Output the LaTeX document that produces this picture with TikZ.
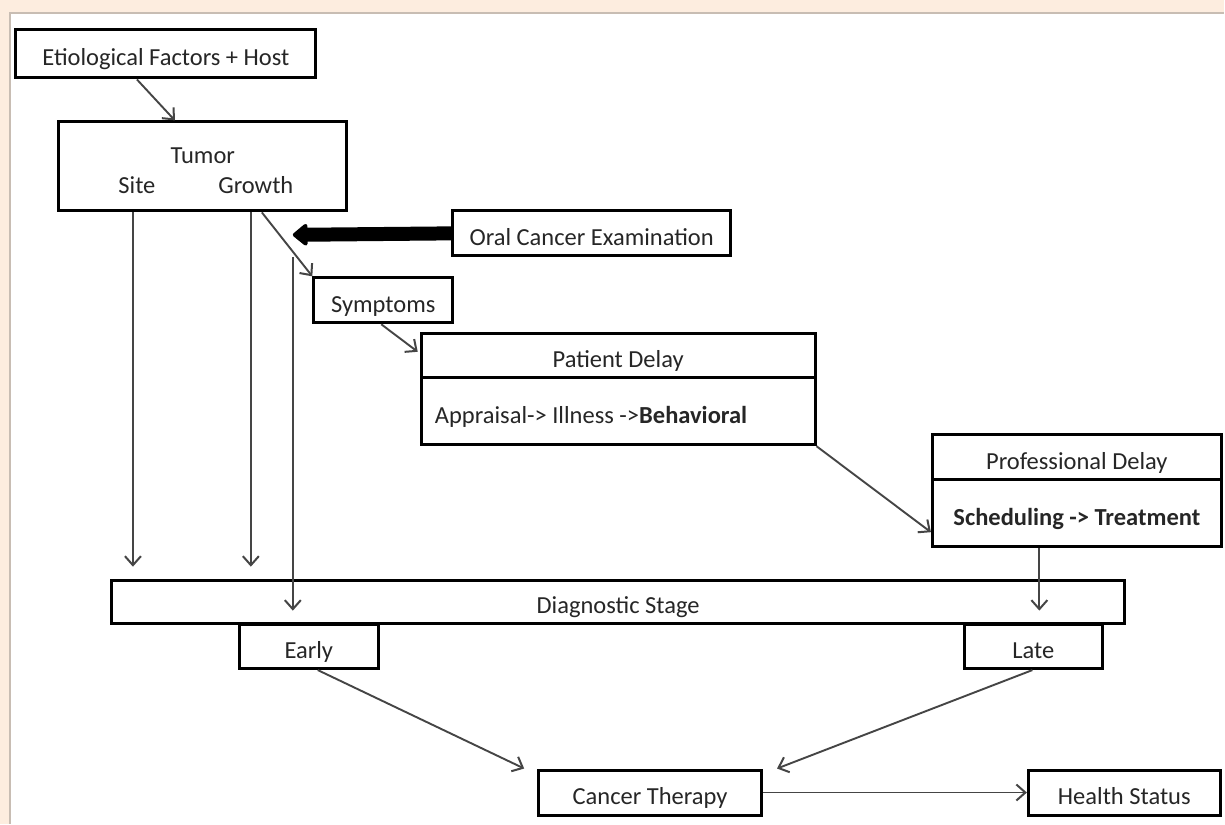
\documentclass[tikz,border=0pt]{standalone}
\usepackage{fontspec}
\setmainfont{Carlito}
\usetikzlibrary{arrows.meta}
\definecolor{peach}{HTML}{FDEDDF}
\definecolor{edgec}{HTML}{C8BDB3}
\definecolor{textc}{HTML}{262626}
\definecolor{linec}{HTML}{454545}
\newcommand{\boxfont}{\fontsize{24.5}{29}\selectfont}
\begin{document}
\begin{tikzpicture}[x=1pt,y=-1pt,
  box/.style={draw=black, line width=3pt, inner sep=0pt, text=textc, font=\boxfont, text height=25pt, text depth=1pt},
  lbl/.style={inner sep=0pt, text=textc, font=\boxfont},
  arr/.style={draw=linec, line width=1.9pt, -{Straight Barb[length=9pt,width=16pt,line width=2pt]}},
  big/.style={draw=black, line width=14pt, -{Triangle[length=16pt,width=25pt,round]}}]
% background
\fill[peach] (0,0) rectangle (1225,824);
\fill[white] (10,13) rectangle (1225,824);
\draw[edgec, line width=1.5pt] (10,824) -- (10,13) -- (1225,13);
\useasboundingbox (0,0) rectangle (1225,824);

% boxes
\node[box, minimum width=300pt, minimum height=48pt] (etio) at (166,54) {Etiological Factors + Host};
\node[box, minimum width=288pt, minimum height=89pt] (tumor) at (203,166.5) {};
\node[lbl] (tumlbl) at (203,156) {Tumor};
\node[lbl] (site) at (137,185) {Site};
\node[lbl] (growth) at (256,185) {Growth};
\node[box, minimum width=278pt, minimum height=45pt] (oce) at (592,233.5) {Oral Cancer Examination};
\node[box, minimum width=139pt, minimum height=45pt] (symp) at (383.5,300.5) {Symptoms};
\node[box, minimum width=394pt, minimum height=44pt] (pdh) at (618.5,356) {Patient Delay};
\node[box, minimum width=394pt, minimum height=67pt] (pdb) at (618.5,411.5) {};
\node[lbl, anchor=west] (pdt) at (435,417) {Appraisal-> Illness ->\textbf{Behavioral}};
\node[box, minimum width=289pt, minimum height=45pt] (pfh) at (1077.5,457.5) {Professional Delay};
\node[box, minimum width=289pt, minimum height=67pt] (pfb) at (1077.5,513.5) {\textbf{Scheduling -> Treatment}};
\node[box, minimum width=1013pt, minimum height=43pt] (diag) at (618.5,602) {Diagnostic Stage};
\node[box, minimum width=139pt, minimum height=44pt] (early) at (309,647) {Early};
\node[box, minimum width=138pt, minimum height=44pt] (late) at (1034,647) {Late};
\node[box, minimum width=223pt, minimum height=45pt] (ther) at (650.5,793) {Cancer Therapy};
\node[box, minimum width=192pt, minimum height=45pt] (hs) at (1125,793) {Health Status};

% coordinates
\coordinate (tipc) at (293,235);
\coordinate (a1) at (133,567);
\coordinate (a2) at (251,567);
\coordinate (a3s) at (293,257);
\coordinate (a3) at (293,611);
\coordinate (a4) at (1040,611);

% connectors
\draw[arr] ([xshift=-29pt]etio.south) -- ([xshift=-28pt]tumor.north);
\draw[big] (oce.west) -- (tipc);
\draw[arr] ([xshift=59pt]tumor.south) -- (symp.north west);
\draw[arr] ([xshift=-2pt]symp.south) -- ([xshift=-2pt,yshift=4pt]pdh.west);
\draw[arr] (pdb.south east) -- ([yshift=-19pt]pfb.west);
\draw[arr] (tumor.south -| a1) -- (a1);
\draw[arr] (tumor.south -| a2) -- (a2);
\draw[arr] (a3s) -- (a3);
\draw[arr] (pfb.south -| a4) -- (a4);
\draw[arr] ([xshift=9pt]early.south) -- ([xshift=-13pt]ther.north west);
\draw[arr] ([xshift=-1pt]late.south) -- ([xshift=14pt]ther.north east);
\draw[arr] (ther.east) -- (hs.west);
\end{tikzpicture}
\end{document}
